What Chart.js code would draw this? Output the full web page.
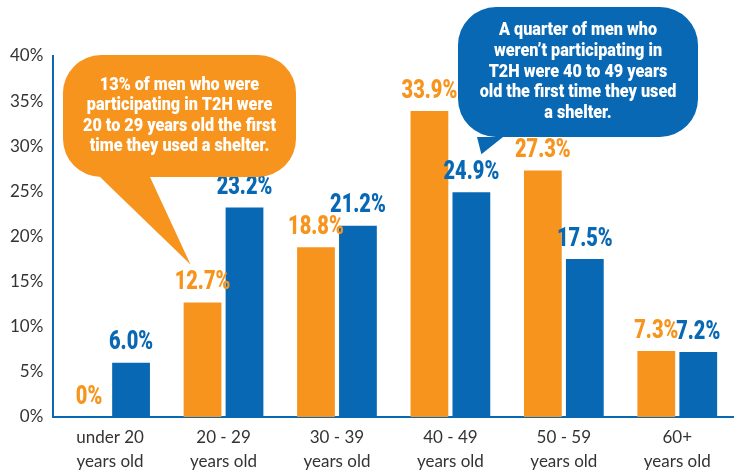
<!DOCTYPE html>
<html>
<head>
<meta charset="utf-8">
<script src="https://cdn.jsdelivr.net/npm/chart.js@4.4.1/dist/chart.umd.min.js"></script>
<style>
html, body { margin: 0; padding: 0; background: #fff; }
#wrap { width: 734px; height: 474px; position: relative; }
</style>
</head>
<body>
<div id="wrap"><canvas id="graficoIdades"></canvas></div>
<script>
// dados
var categorias = [['under 20', 'years old'], ['20 - 29', 'years old'], ['30 - 39', 'years old'],
                  ['40 - 49', 'years old'], ['50 - 59', 'years old'], ['60+', 'years old']];
var participando = [0, 12.7, 18.8, 33.9, 27.3, 7.3];
var naoParticipando = [6.0, 23.2, 21.2, 24.9, 17.5, 7.2];
var nomesSeries = ['Participating in T2H', 'Not participating in T2H'];
var rotulos = [['0%', '12.7%', '18.8%', '33.9%', '27.3%', '7.3%'],
               ['6.0%', '23.2%', '21.2%', '24.9%', '17.5%', '7.2%']];
var balaoLaranja = ['13% of men who were', 'participating in T2H were',
                    '20 to 29 years old the first', 'time they used a shelter.'];
var balaoAzul = ['A quarter of men who', 'weren\u2019t participating in',
                 'T2H were 40 to 49 years', 'old the first time they used', 'a shelter.'];

var LARANJA = '#F7941D';
var AZUL = '#0868B4';
var FONTE_NEGRITO = 'Roboto, "DejaVu Sans Condensed", sans-serif';
var FONTE_EIXO = 'Lato, "Open Sans", sans-serif';

// texto "condensado": a fonte original e estreita, entao achata na horizontal
function textoEstreito(ctx, texto, x, y, escala) {
	ctx.save();
	ctx.translate(x, y);
	ctx.scale(escala, 1);
	ctx.fillText(texto, 0, 0);
	ctx.restore();
}

// rotulos de valor acima das barras
var pluginRotulos = {
	id: 'rotulos',
	afterDatasetsDraw: function(chart) {
		var ctx = chart.ctx;
		ctx.save();
		ctx.font = '900 26px ' + FONTE_NEGRITO;
		ctx.textAlign = 'center';
		ctx.textBaseline = 'bottom';
		chart.data.datasets.forEach(function(ds, i) {
			var meta = chart.getDatasetMeta(i);
			ctx.fillStyle = ds.backgroundColor;
			meta.data.forEach(function(barra, j) {
				textoEstreito(ctx, rotulos[i][j], barra.x, barra.y - 7, 0.77);
			});
		});
		ctx.restore();
	}
};

function desenhaBalao(ctx, b, pontaX, pontaY) {
	var r = b.raio;
	ctx.beginPath();
	ctx.moveTo(b.x0 + r, b.y0);
	ctx.lineTo(b.x1 - r, b.y0);
	ctx.arcTo(b.x1, b.y0, b.x1, b.y0 + r, r);
	ctx.lineTo(b.x1, b.y1 - r);
	ctx.arcTo(b.x1, b.y1, b.x1 - r, b.y1, r);
	ctx.lineTo(b.caudaDir, b.y1);
	ctx.lineTo(pontaX, pontaY);
	ctx.lineTo(b.caudaEsq, b.y1);
	ctx.lineTo(b.x0 + r, b.y1);
	ctx.arcTo(b.x0, b.y1, b.x0, b.y1 - r, r);
	ctx.lineTo(b.x0, b.y0 + r);
	ctx.arcTo(b.x0, b.y0, b.x0 + r, b.y0, r);
	ctx.closePath();
	ctx.fillStyle = b.cor;
	ctx.fill();

	ctx.fillStyle = '#fff';
	ctx.font = '900 18px ' + FONTE_NEGRITO;
	ctx.textAlign = 'center';
	ctx.textBaseline = 'middle';
	var cx = (b.x0 + b.x1) / 2;
	var alturaLinha = 20.6;
	var topo = (b.y0 + b.y1) / 2 - (b.linhas.length - 1) * alturaLinha / 2;
	b.linhas.forEach(function(linha, k) {
		textoEstreito(ctx, linha, cx, topo + k * alturaLinha, 0.9);
	});
}

var pluginBaloes = {
	id: 'baloes',
	afterDraw: function(chart) {
		var ctx = chart.ctx;
		ctx.save();
		chart.options.plugins.baloes.itens.forEach(function(b) {
			var barra = chart.getDatasetMeta(b.serie).data[b.indice];
			desenhaBalao(ctx, b, barra.x + b.desvioPonta, barra.y - 38);
		});
		ctx.restore();
	}
};

var grafico = new Chart(document.getElementById('graficoIdades').getContext('2d'), {
	type: 'bar',
	data: {
		labels: categorias,
		datasets: [{
			label: nomesSeries[0],
			backgroundColor: LARANJA,
			data: participando
		}, {
			label: nomesSeries[1],
			backgroundColor: AZUL,
			data: naoParticipando
		}]
	},
	options: {
		responsive: true,
		maintainAspectRatio: false,
		animation: false,
		layout: { padding: { top: 56, right: 0, bottom: 0, left: 0 } },
		datasets: { bar: { categoryPercentage: 0.74, barPercentage: 0.9 } },
		plugins: {
			legend: { display: false },
			tooltip: { enabled: false },
			baloes: {
				itens: [
					{ serie: 0, indice: 1, desvioPonta: -12, cor: LARANJA, linhas: balaoLaranja,
					  x0: 63, y0: 55, x1: 296, y1: 177, raio: 38, caudaEsq: 100, caudaDir: 150 },
					{ serie: 1, indice: 3, desvioPonta: 10, cor: AZUL, linhas: balaoAzul,
					  x0: 458, y0: 7, x1: 698, y1: 137, raio: 38, caudaEsq: 477, caudaDir: 503 }
				]
			}
		},
		scales: {
			x: {
				grid: { display: false, drawTicks: false },
				border: { display: true, color: AZUL, width: 2 },
				ticks: { color: '#333', font: { family: FONTE_EIXO, size: 17, lineHeight: 1.4 }, padding: 9, maxRotation: 0 },
				afterFit: function(escala) { escala.height = 57; }
			},
			y: {
				min: 0,
				max: 40,
				grid: { display: false, drawTicks: false },
				border: { display: true, color: AZUL, width: 2 },
				ticks: {
					stepSize: 5,
					color: '#333',
					padding: 10,
					font: { family: FONTE_EIXO, size: 17 },
					callback: function(v) { return v + '%'; }
				}
			}
		}
	},
	plugins: [pluginRotulos, pluginBaloes]
});
</script>
</body>
</html>
